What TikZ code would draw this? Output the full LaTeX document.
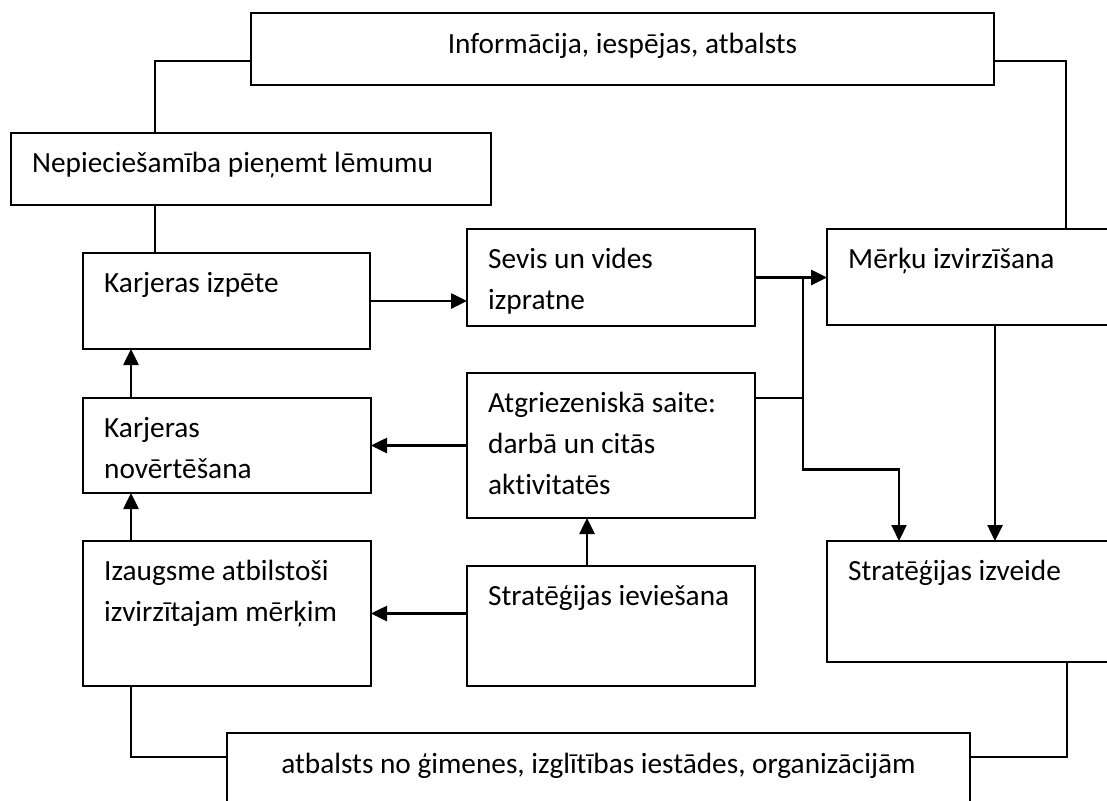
\documentclass[tikz,border=0pt]{standalone}
\usepackage{fontspec}
\setmainfont{Carlito}[RawFeature=-liga]
\usetikzlibrary{arrows.meta}

% box with its text set 21pt in from the left and 39pt down to the first baseline
\newcommand\leftbox[6]{%
  \node[frame, minimum width={(#4-#2)*1pt}, minimum height={(#5-#3)*1pt}]
    (#1) at ({(#2+#4)/2},{(#3+#5)/2}) {};
  \node[boxtext, anchor=base west] (#1-t) at ({#2+21},{#3+39}) {#6};
}
% box with its text centred horizontally
\newcommand\midbox[6]{%
  \node[frame, minimum width={(#4-#2)*1pt}, minimum height={(#5-#3)*1pt}]
    (#1) at ({(#2+#4)/2},{(#3+#5)/2}) {};
  \node[boxtext, anchor=base] (#1-t) at ({(#2+#4)/2},{#3+40}) {#6};
}
\newcommand\twolines[2]{\vtop{\hbox{#1}\hbox{#2}}}
\newcommand\threelines[3]{\vtop{\hbox{#1}\hbox{#2}\hbox{#3}}}

\begin{document}
\begin{tikzpicture}[x=1pt,y=-1pt,
  frame/.style={draw, line width=2pt, rectangle, inner sep=0pt, outer sep=0pt},
  boxtext/.style={inner sep=0pt, font=\fontsize{29.3}{41}\selectfont},
  link/.style={line width=1.8pt},
  trunk/.style={line width=2.2pt},
  flow/.style={line width=2.6pt, -{Triangle[length=16pt,width=15pt]}},
  ]
\useasboundingbox (0,0) rectangle (1107,800);
\clip (0,0) rectangle (1107,800);
\fill[white] (0,0) rectangle (1107,800);

% boxes
\midbox{info}{251}{13}{994}{85}{Informācija, iespējas, atbalsts}
\leftbox{need}{11}{133}{491}{205}{Nepieciešamība pieņemt lēmumu}
\leftbox{explore}{83}{253}{370}{349}{Karjeras izpēte}
\leftbox{self}{467}{229}{755}{326}{\twolines{Sevis un vides}{izpratne}}
\leftbox{goals}{827}{229}{1140}{325}{Mērķu izvirzīšana}
\leftbox{feedback}{467}{373}{755}{518}{\threelines{Atgriezeniskā saite:}{darbā un citās}{aktivitatēs}}
\leftbox{assess}{83}{398}{371}{493}{\twolines{Karjeras}{novērtēšana}}
\leftbox{growth}{83}{541}{371}{686}{\twolines{Izaugsme atbilstoši}{izvirzītajam mērķim}}
\leftbox{implement}{467}{566}{755}{686}{Stratēģijas ieviešana}
\leftbox{design}{827}{541}{1140}{662}{Stratēģijas izveide}
\midbox{support}{227}{733}{970}{840}{atbalsts no ģimenes, izglītības iestādes, organizācijām}

% plain links
\coordinate (needTop) at ([xshift=144pt]need.north west);
\coordinate (needBot) at ([xshift=144pt]need.south west);
\coordinate (infoL) at ([yshift=-48pt]info.north west);
\coordinate (infoR) at ([yshift=-48pt]info.north east);
\coordinate (goalsTop) at ([xshift=239pt]goals.north west);
\coordinate (growthBot) at ([xshift=48pt]growth.south west);
\coordinate (supportL) at ([yshift=-24pt]support.north west);
\coordinate (supportR) at ([yshift=-24pt]support.north east);
\coordinate (designBot) at ([xshift=240pt]design.south west);

\draw[link] (needTop) |- (infoL);
\draw[link] (needBot) -- (needBot |- explore.north);
\draw[link] (infoR) -| (goalsTop);
\draw[link] (growthBot) |- (supportL);
\draw[link] (supportR) -| (designBot);

% flows
\draw[flow] (explore.east) -- (self.west |- explore.east);
\draw[flow] (self.east) -- (goals.west |- self.east);

\coordinate (split) at ([xshift=48pt]self.east);
\coordinate (bend) at ([yshift=-192pt]split);
\coordinate (designIn) at ([xshift=72pt]design.north west);
\draw[flow, line width=2.2pt] (split) -- (bend) -- (bend -| designIn) -- (designIn);
\draw[trunk] ([yshift=-25pt]feedback.north east) -- ([yshift=-25pt]feedback.north east -| split);

\coordinate (goalsOut) at ([xshift=168pt]goals.south west);
\draw[flow] (goalsOut) -- (goalsOut |- design.north);

\draw[flow] (feedback.west) -- (assess.east);
\draw[flow] (implement.west |- growth.east) -- (growth.east);

\coordinate (implUp) at ([xshift=-24pt]implement.north);
\draw[flow] (implUp) -- (implUp |- feedback.south);

\coordinate (assessUp) at ([xshift=48pt]assess.north west);
\draw[flow] (assessUp) -- (assessUp |- explore.south);
\coordinate (growthUp) at ([xshift=48pt]growth.north west);
\draw[flow] (growthUp) -- (growthUp |- assess.south);
\end{tikzpicture}
\end{document}
